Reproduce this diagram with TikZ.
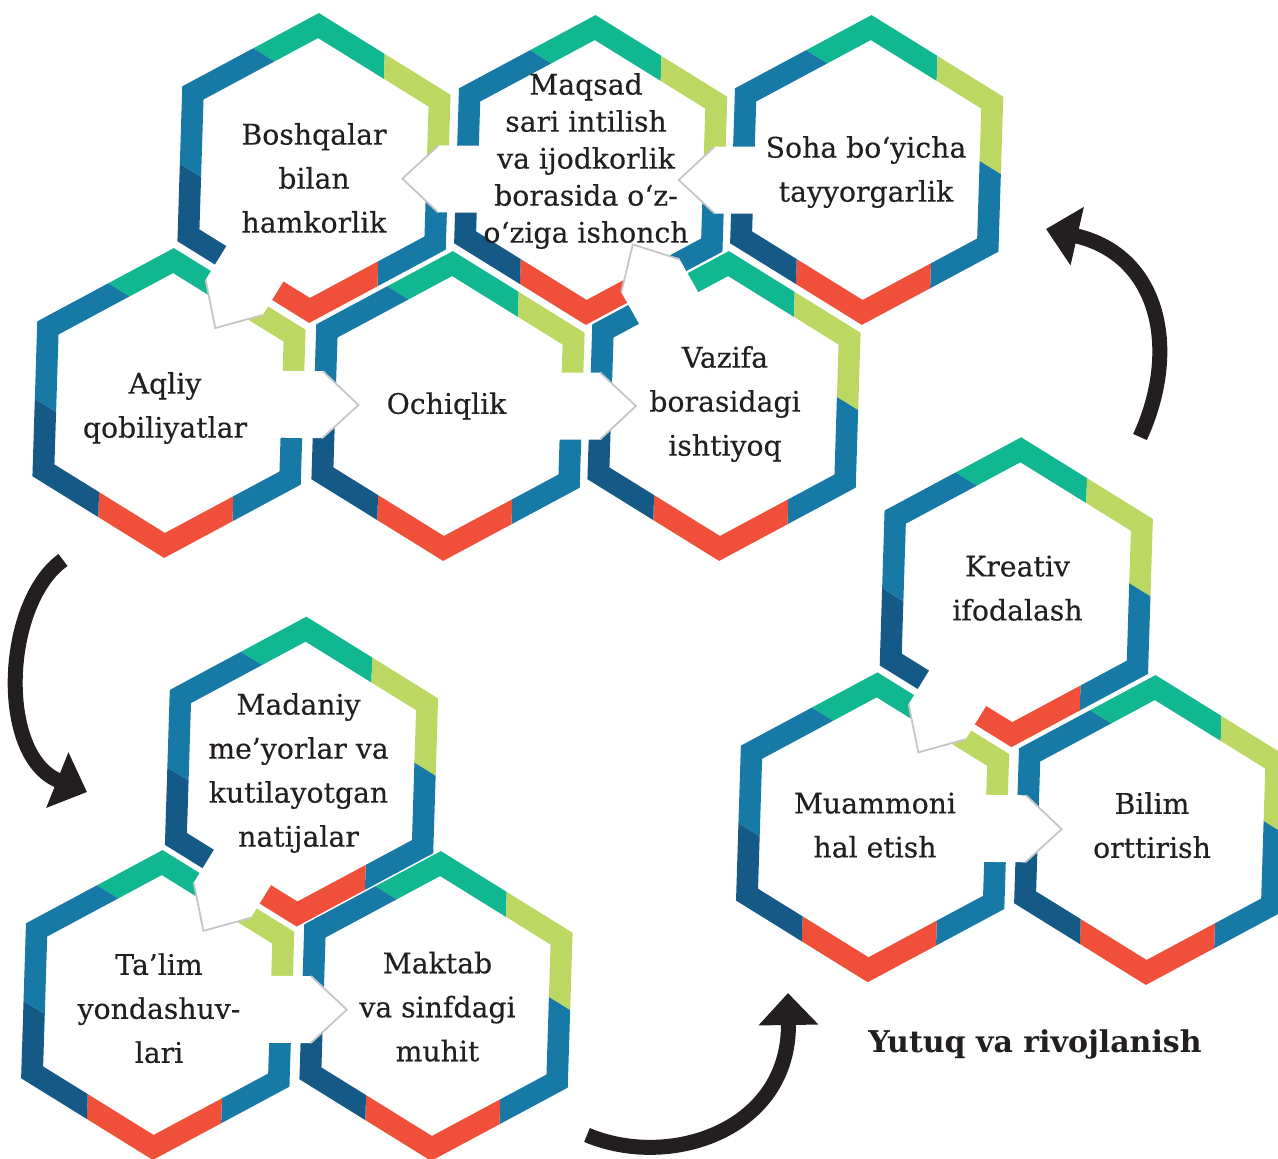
\documentclass[tikz,border=0pt]{standalone}
\usepackage{fontspec}
\setmainfont{DejaVu Serif}
\newfontfamily\lblfont{DejaVu Serif}[FakeBold=0.35]
\usetikzlibrary{calc,arrows.meta}
\definecolor{cgreen}{RGB}{16,183,144}
\definecolor{clime}{RGB}{189,216,98}
\definecolor{cblue}{RGB}{23,121,165}
\definecolor{cdblue}{RGB}{21,90,135}
\definecolor{cred}{RGB}{240,80,58}
\definecolor{ctabgray}{RGB}{198,198,198}
\definecolor{ctext}{RGB}{35,31,32}
\newcommand{\hexring}[1]{%
\begin{scope}[shift={(#1)},rotate=-1.8]
\fill[cgreen] (-64.43,117.8) -- (0,155) -- (67.12,116.25) -- (67.12,91.25) -- (0,130) -- (-42.78,105.3) -- cycle;
\fill[clime] (67.12,116.25) -- (134.23,77.5) -- (134.23,0) -- (112.58,12.5) -- (112.58,65) -- (67.12,91.25) -- cycle;
\fill[cblue] (134.23,0) -- (134.23,-77.5) -- (67.12,-116.25) -- (67.12,-91.25) -- (112.58,-65) -- (112.58,12.5) -- cycle;
\fill[cred] (67.12,-116.25) -- (0,-155) -- (-67.12,-116.25) -- (-67.12,-91.25) -- (0,-130) -- (67.12,-91.25) -- cycle;
\fill[cdblue] (-67.12,-116.25) -- (-134.23,-77.5) -- (-134.23,0) -- (-112.58,-12.5) -- (-112.58,-65) -- (-67.12,-91.25) -- cycle;
\fill[cblue] (-134.23,0) -- (-134.23,77.5) -- (-64.43,117.8) -- (-42.78,105.3) -- (-112.58,65) -- (-112.58,-12.5) -- cycle;
\end{scope}}
\newcommand{\hextab}[2]{%
\path ($(#1)!0.5!(#2)$) coordinate (tM);
\path ($(tM)!14pt!(#2)$) coordinate (tC)
      ($(tM)!50pt!(#2)$) coordinate (tTip)
      ($(tM)!-60pt!(#2)$) coordinate (tD);
\path ($(tC)!33.5pt!90:(#2)$) coordinate (tA)
      ($(tC)!33.5pt!-90:(#2)$) coordinate (tB)
      ($(tD)!33.5pt!90:(#2)$) coordinate (tAA)
      ($(tD)!33.5pt!-90:(#2)$) coordinate (tBB);
\fill[white] (tAA) -- (tA) -- (tTip) -- (tB) -- (tBB) -- cycle;
\draw[tabline] (tA) -- (tTip) -- (tB);
}
\begin{document}
\begin{tikzpicture}[x=1pt,y=1pt,
  tabline/.style={draw=ctabgray,line width=1.8pt,line join=miter},
  lbl/.style={font=\lblfont\fontsize{28.3}{44}\selectfont,align=center,inner sep=0pt,text=ctext},
  lbltight/.style={font=\lblfont\fontsize{28.3}{37}\selectfont,align=center,inner sep=0pt,text=ctext},
  bigarrow/.style={draw=ctext,line width=15pt,-{Triangle[width=58pt 0 0,length=32pt 0 0]}}]
\useasboundingbox (0,0) rectangle (1278,-1159);
\clip (0,0) rectangle (1278,-1159);
% hexagon centres
\coordinate (cBosh) at (314,-168);
\coordinate (cMaq) at (590.7,-170);
\coordinate (cSoha) at (866.7,-170);
\coordinate (cAql) at (169,-403);
\coordinate (cOch) at (448,-406);
\coordinate (cVaz) at (724,-406);
\coordinate (cMad) at (301.5,-771.6);
\coordinate (cTal) at (157.7,-1005);
\coordinate (cMak) at (436,-1006);
\coordinate (cKre) at (1016.3,-592.2);
\coordinate (cMua) at (872.6,-827.3);
\coordinate (cBil) at (1150.7,-830);
% rings
\foreach \c in {cBosh,cMaq,cSoha,cAql,cOch,cVaz,cMad,cTal,cMak,cKre,cMua,cBil}{\hexring{\c}}
% tabs
\hextab{$(cSoha)+(0,-10)$}{$(cMaq)+(0,-10)$}
\hextab{$(cMaq)+(0,-10)$}{$(cBosh)+(0,-10)$}
\hextab{cBosh}{cAql}
\hextab{cAql}{cOch}
\hextab{cOch}{cVaz}
\hextab{cVaz}{cMaq}
\hextab{cMad}{cTal}
\hextab{$(cTal)+(0,-4)$}{$(cMak)+(0,-4)$}
\hextab{cKre}{cMua}
\hextab{cMua}{cBil}
% texts
\node[lbl] (tBosh) at (314,-178) {Boshqalar\\bilan\\hamkorlik};
\node[lbltight] (tMaq) at (586,-161) {Maqsad\\sari intilish\\va ijodkorlik\\borasida o‘z-\\o‘ziga ishonch};
\node[lbl] (tSoha) at (866,-172) {Soha bo‘yicha\\tayyorgarlik};
\node[lbl] (tAql) at (165,-408) {Aqliy\\qobiliyatlar};
\node[lbl] (tOch) at (446.5,-406) {Ochiqlik};
\node[lbl] (tVaz) at (725,-404) {Vazifa\\borasidagi\\ishtiyoq};
\node[lbl] (tMad) at (298.5,-773) {Madaniy\\me’yorlar va\\kutilayotgan\\natijalar};
\node[lbl] (tTal) at (159,-1008.2) {Ta’lim\\yondashuv-\\lari};
\node[lbl] (tMak) at (437.5,-1006.7) {Maktab\\va sinfdagi\\muhit};
\node[lbl] (tKre) at (1017.5,-588.2) {Kreativ\\ifodalash};
\node[lbl] (tMua) at (875,-825.2) {Muammoni\\hal etish};
\node[lbl] (tBil) at (1152,-825.2) {Bilim\\orttirish};
\node[font=\bfseries\fontsize{30}{36}\selectfont,inner sep=0pt,text=ctext] (yutuq) at (1035,-1044) {Yutuq va rivojlanish};
% big arrows
\coordinate (a1s) at (63,-560);
\coordinate (a1e) at (87,-792);
\coordinate (a2s) at (587,-1135);
\coordinate (a2e) at (788,-993);
\coordinate (a3s) at (1140,-437);
\coordinate (a3e) at (1046,-229);
\draw[bigarrow] (a1s) .. controls (3,-603) and (-3,-756) .. (a1e);
\draw[bigarrow] (a2s) .. controls (670,-1170) and (790,-1130) .. (a2e);
\draw[bigarrow] (a3s) .. controls (1180,-350) and (1160,-255) .. (a3e);
\end{tikzpicture}
\end{document}
